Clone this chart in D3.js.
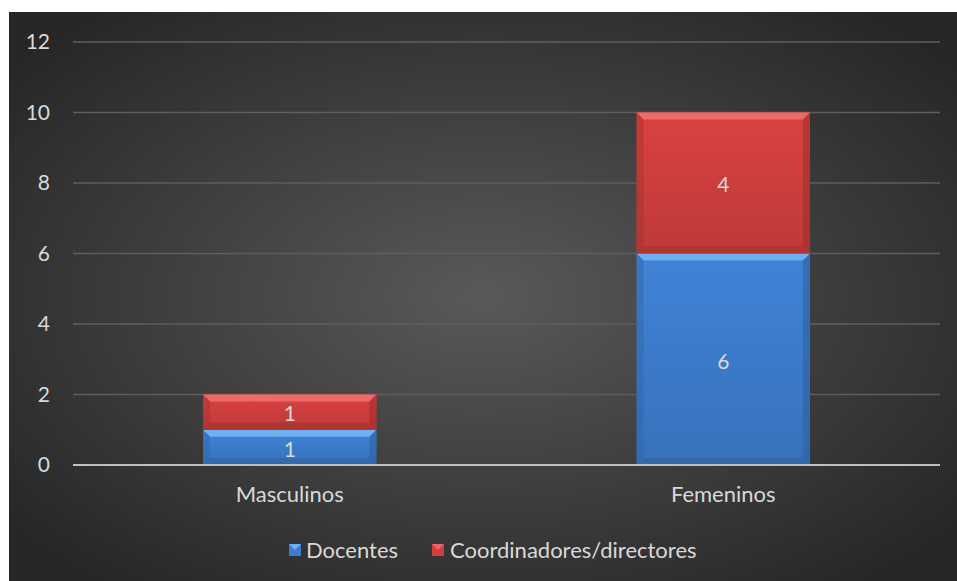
<!DOCTYPE html>
<html>
<head>
<meta charset="utf-8">
<script src="https://cdn.jsdelivr.net/npm/d3@7"></script>
<style>
  html, body { margin: 0; padding: 0; background: #ffffff; }
  svg { display: block; }
  text { font-family: Lato, "Open Sans", "Noto Sans", sans-serif; }
</style>
</head>
<body>
<svg id="chart" width="957" height="581"></svg>
<script>
const categories = ["Masculinos", "Femeninos"];
const seriesNames = ["Docentes", "Coordinadores/directores"];
const docentes = [1, 6];
const coordinadores = [1, 4];
const yTicks = [0, 2, 4, 6, 8, 10, 12];

const colors = {
  "Docentes": { base: "#3c7ccc", light: "#79b8f5", dark: "#2d5f9e" },
  "Coordinadores/directores": { base: "#cf3f3d", light: "#f07272", dark: "#9c2d2b" }
};

const W = 957, H = 581;
const margin = { left: 73, right: 17, top: 42, bottom: 116 };
const svg = d3.select("#chart");
const defs = svg.append("defs");

// chart area background
const bg = defs.append("radialGradient").attr("id", "bgGrad")
  .attr("cx", "50%").attr("cy", "50%").attr("r", "65%");
bg.append("stop").attr("offset", "0%").attr("stop-color", "#595959");
bg.append("stop").attr("offset", "100%").attr("stop-color", "#262626");
svg.append("rect").attr("x", 9).attr("y", 12).attr("width", W - 9).attr("height", H - 12)
  .attr("fill", "url(#bgGrad)");

const x = d3.scaleBand().domain(categories)
  .range([margin.left, W - margin.right]).paddingInner(0.6).paddingOuter(0.3);
const y = d3.scaleLinear().domain([0, 12]).range([H - margin.bottom, margin.top]);

// gridlines
svg.append("g").selectAll("line").data(yTicks.filter(d => d > 0)).join("line")
  .attr("x1", margin.left).attr("x2", W - margin.right)
  .attr("y1", d => y(d)).attr("y2", d => y(d))
  .attr("stroke", "#5e5e5e").attr("stroke-width", 1.3);

// y axis labels
const yAxis = d3.axisLeft(y).tickValues(yTicks).tickSize(0).tickPadding(23);
const gy = svg.append("g").attr("transform", `translate(${margin.left},0)`).call(yAxis);
gy.select(".domain").remove();
gy.selectAll("text").attr("fill", "#d9d9d9").attr("font-size", 21)
  .style("font-family", "Lato, sans-serif");

// stacked data
const rows = categories.map((c, i) => ({
  category: c, "Docentes": docentes[i], "Coordinadores/directores": coordinadores[i]
}));
const stacked = d3.stack().keys(seriesNames)(rows);

// vertical shading gradients per series
seriesNames.forEach((s, k) => {
  const g = defs.append("linearGradient").attr("id", "fill" + k)
    .attr("x1", 0).attr("y1", 0).attr("x2", 0).attr("y2", 1);
  g.append("stop").attr("offset", "0%").attr("stop-color", d3.color(colors[s].base).brighter(0.15));
  g.append("stop").attr("offset", "100%").attr("stop-color", d3.color(colors[s].base).darker(0.25));
});

const bw = x.bandwidth();
const bevel = 7;
stacked.forEach((layer, k) => {
  const s = layer.key;
  const g = svg.append("g");
  layer.forEach(d => {
    const x0 = x(d.data.category), x1 = x0 + bw;
    const yt = y(d[1]), yb = y(d[0]);
    const h = yb - yt;
    const bv = Math.min(bevel, h / 3);
    g.append("rect").attr("x", x0).attr("y", yt).attr("width", bw).attr("height", h)
      .attr("fill", `url(#fill${k})`);
    // top bevel
    g.append("path")
      .attr("d", `M${x0},${yt}L${x1},${yt}L${x1 - bv},${yt + bv}L${x0 + bv},${yt + bv}Z`)
      .attr("fill", colors[s].light).attr("opacity", 0.85);
    // left & right bevels
    g.append("path")
      .attr("d", `M${x0},${yt}L${x0 + bv},${yt + bv}L${x0 + bv},${yb - bv}L${x0},${yb}Z`)
      .attr("fill", colors[s].dark).attr("opacity", 0.35);
    g.append("path")
      .attr("d", `M${x1},${yt}L${x1 - bv},${yt + bv}L${x1 - bv},${yb - bv}L${x1},${yb}Z`)
      .attr("fill", colors[s].dark).attr("opacity", 0.55);
    // bottom bevel
    g.append("path")
      .attr("d", `M${x0},${yb}L${x0 + bv},${yb - bv}L${x1 - bv},${yb - bv}L${x1},${yb}Z`)
      .attr("fill", colors[s].dark).attr("opacity", 0.45);
    // value label
    g.append("text").attr("x", x0 + bw / 2).attr("y", (yt + yb) / 2 + 2)
      .attr("dy", "0.35em").attr("text-anchor", "middle")
      .attr("fill", "#d9d9d9").attr("font-size", 21)
      .text(d[1] - d[0]);
  });
});

// baseline axis
svg.append("line").attr("x1", margin.left).attr("x2", W - margin.right)
  .attr("y1", y(0)).attr("y2", y(0)).attr("stroke", "#bfbfbf").attr("stroke-width", 2);

// category labels
const xAxis = d3.axisBottom(x).tickSize(0).tickPadding(21);
const gx = svg.append("g").attr("transform", `translate(0,${y(0)})`).call(xAxis);
gx.select(".domain").remove();
gx.selectAll("text").attr("fill", "#d9d9d9").attr("font-size", 22)
  .style("font-family", "Lato, sans-serif");

// legend
const legendItems = [
  { name: "Docentes", mx: 289, tx: 306 },
  { name: "Coordinadores/directores", mx: 432, tx: 450 }
];
const lg = svg.append("g");
legendItems.forEach(it => {
  const c = colors[it.name];
  lg.append("rect").attr("x", it.mx).attr("y", 544).attr("width", 12).attr("height", 12)
    .attr("fill", c.base);
  lg.append("path")
    .attr("d", `M${it.mx},544L${it.mx + 12},544L${it.mx + 6},550Z`)
    .attr("fill", c.light).attr("opacity", 0.8);
  lg.append("text").attr("x", it.tx).attr("y", 550).attr("dy", "0.35em")
    .attr("fill", "#d9d9d9").attr("font-size", 22).text(it.name);
});
</script>
</body>
</html>
